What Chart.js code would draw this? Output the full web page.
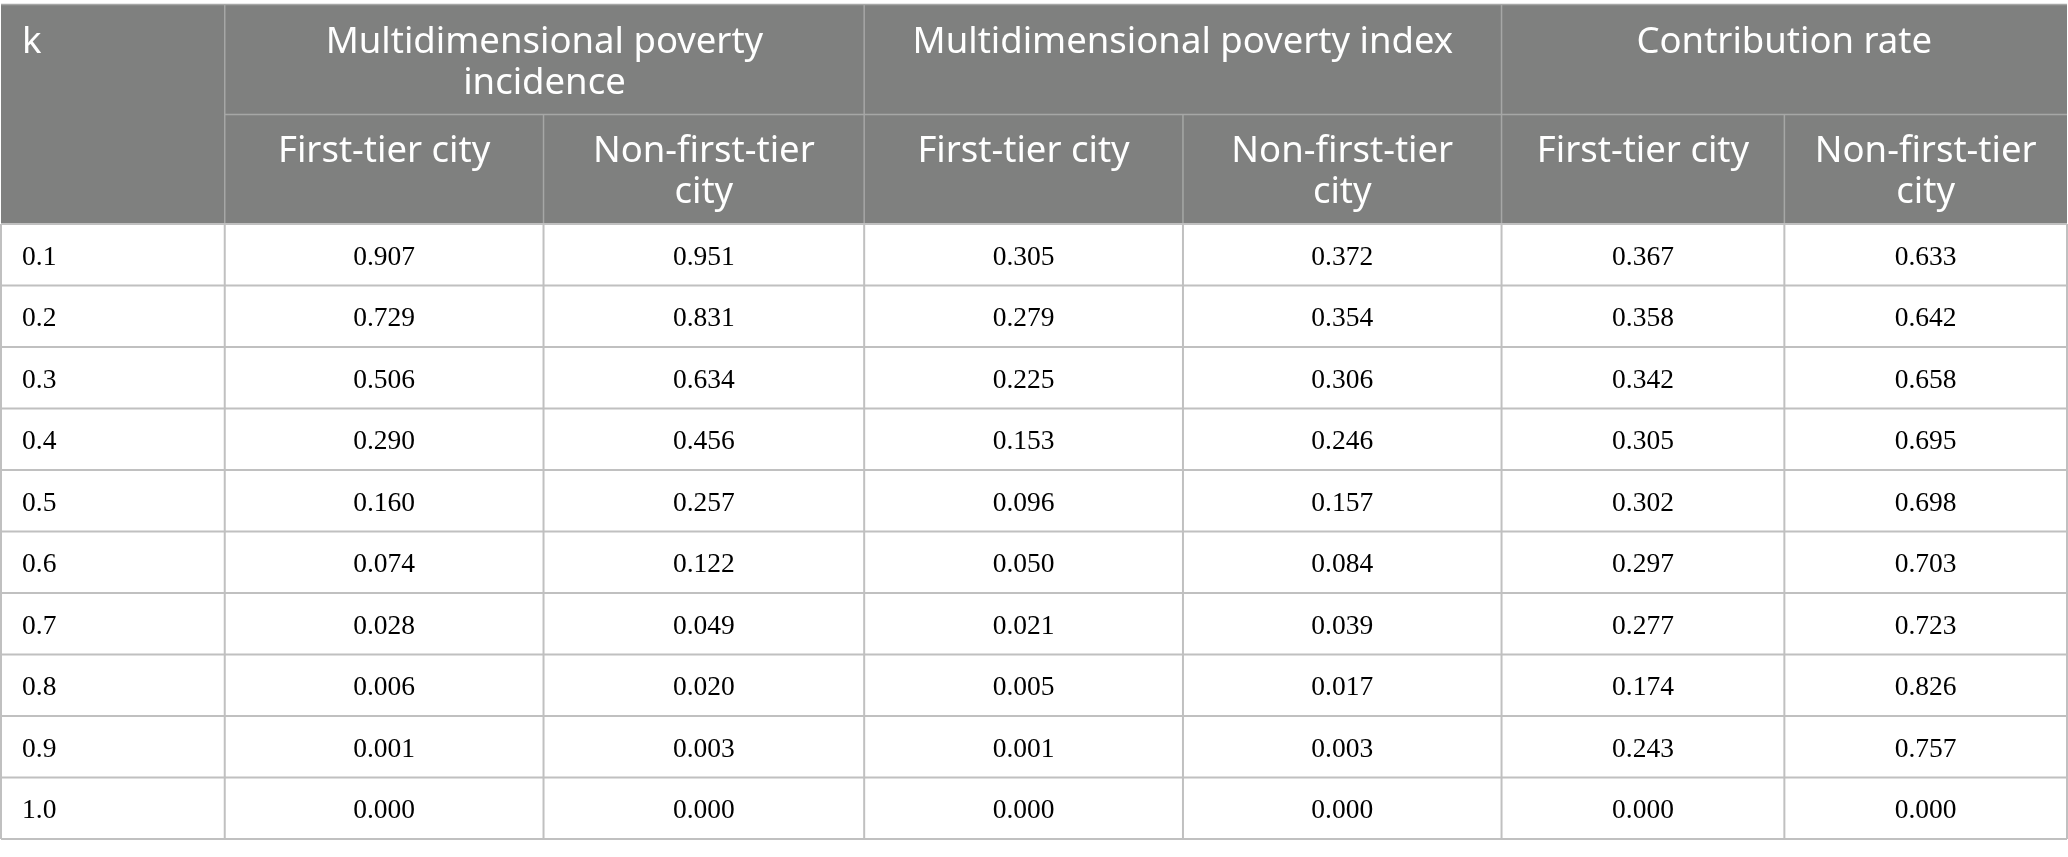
<!DOCTYPE html>
<html>
<head>
<meta charset="utf-8">
<script src="https://cdn.jsdelivr.net/npm/chart.js@4.4.1/dist/chart.umd.min.js"></script>
<style>
  html, body { margin: 0; padding: 0; background: #fff; }
  #wrap { width: 2068px; height: 857px; position: relative; }
</style>
</head>
<body>
<div id="wrap"><canvas id="povertyTable"></canvas></div>
<script>
// table contents
const kValues = [0.1, 0.2, 0.3, 0.4, 0.5, 0.6, 0.7, 0.8, 0.9, 1.0];
const incidenceFirst = [0.907, 0.729, 0.506, 0.290, 0.160, 0.074, 0.028, 0.006, 0.001, 0.000];
const incidenceNonFirst = [0.951, 0.831, 0.634, 0.456, 0.257, 0.122, 0.049, 0.020, 0.003, 0.000];
const indexFirst = [0.305, 0.279, 0.225, 0.153, 0.096, 0.050, 0.021, 0.005, 0.001, 0.000];
const indexNonFirst = [0.372, 0.354, 0.306, 0.246, 0.157, 0.084, 0.039, 0.017, 0.003, 0.000];
const contribFirst = [0.367, 0.358, 0.342, 0.305, 0.302, 0.297, 0.277, 0.174, 0.243, 0.000];
const contribNonFirst = [0.633, 0.642, 0.658, 0.695, 0.698, 0.703, 0.723, 0.826, 0.757, 0.000];

const groupLabels = ['Multidimensional poverty\nincidence', 'Multidimensional poverty index', 'Contribution rate'];
const subLabels = ['First-tier city', 'Non-first-tier\ncity'];
const firstColLabel = 'k';

const columns = [incidenceFirst, incidenceNonFirst, indexFirst, indexNonFirst, contribFirst, contribNonFirst];

// layout (x in percent of table width, y in body-row units)
const colEdges = [0, 10.83, 26.26, 41.78, 57.21, 72.63, 86.32, 100];
const headRow = 1.78;
const bodyTop = headRow * 2;
const yMax = bodyTop + kValues.length;

const headFont = '36.5px "Noto Sans"';
const bodyFont = '27.5px "Liberation Serif"';

const tablePlugin = {
  id: 'tablePlugin',
  afterDraw(chart) {
    const ctx = chart.ctx;
    const xs = chart.scales.x, ys = chart.scales.y;
    const X = v => xs.getPixelForValue(v);
    const Y = v => ys.getPixelForValue(v);

    ctx.save();
    // header background
    ctx.fillStyle = '#7f807f';
    ctx.fillRect(X(0), Y(0), X(100) - X(0), Y(bodyTop) - Y(0));

    const line = (x1, y1, x2, y2) => {
      ctx.beginPath();
      ctx.moveTo(x1, y1);
      ctx.lineTo(x2, y2);
      ctx.stroke();
    };

    // header lines
    ctx.strokeStyle = '#a6a7a6';
    ctx.lineWidth = 1.5;
    line(X(0), Y(0) - 0.5, X(100), Y(0) - 0.5);
    [1, 3, 5].forEach(i => line(X(colEdges[i]), Y(0), X(colEdges[i]), Y(bodyTop)));
    [2, 4, 6].forEach(i => line(X(colEdges[i]), Y(headRow), X(colEdges[i]), Y(bodyTop)));
    line(X(colEdges[1]), Y(headRow), X(100), Y(headRow));

    // body grid
    ctx.strokeStyle = '#c0c0c0';
    ctx.lineWidth = 2;
    for (let r = 0; r <= kValues.length; r++) {
      line(X(0), Y(bodyTop + r), X(100), Y(bodyTop + r));
    }
    colEdges.forEach(e => line(X(e), Y(bodyTop), X(e), Y(yMax)));

    // header text
    ctx.fillStyle = '#ffffff';
    ctx.font = headFont;
    ctx.textBaseline = 'alphabetic';
    const headText = (text, x, top, align) => {
      ctx.textAlign = align;
      text.split('\n').forEach((t, i) => ctx.fillText(t, x, Y(top) + 48 + i * 41));
    };
    headText(firstColLabel, X(0) + 21, 0, 'left');
    groupLabels.forEach((g, i) => {
      headText(g, (X(colEdges[1 + i * 2]) + X(colEdges[3 + i * 2])) / 2, 0, 'center');
      subLabels.forEach((s, j) => {
        const c = 1 + i * 2 + j;
        headText(s, (X(colEdges[c]) + X(colEdges[c + 1])) / 2, headRow, 'center');
      });
    });

    // body text
    ctx.fillStyle = '#000000';
    ctx.font = bodyFont;
    ctx.textBaseline = 'middle';
    kValues.forEach((k, r) => {
      const yc = Y(bodyTop + r + 0.5) + 3;
      ctx.textAlign = 'left';
      ctx.fillText(k.toFixed(1), X(0) + 21, yc);
      ctx.textAlign = 'center';
      columns.forEach((col, c) => {
        ctx.fillText(col[r].toFixed(3), (X(colEdges[c + 1]) + X(colEdges[c + 2])) / 2, yc);
      });
    });
    ctx.restore();
  }
};

new Chart(document.getElementById('povertyTable'), {
  type: 'scatter',
  data: { datasets: [] },
  options: {
    responsive: true,
    maintainAspectRatio: false,
    animation: false,
    layout: { padding: { top: 5, bottom: 18, left: 1, right: 1 } },
    plugins: { legend: { display: false }, tooltip: { enabled: false } },
    scales: {
      x: { type: 'linear', min: 0, max: 100, display: false },
      y: { type: 'linear', min: 0, max: yMax, reverse: true, display: false }
    }
  },
  plugins: [tablePlugin]
});
</script>
</body>
</html>
